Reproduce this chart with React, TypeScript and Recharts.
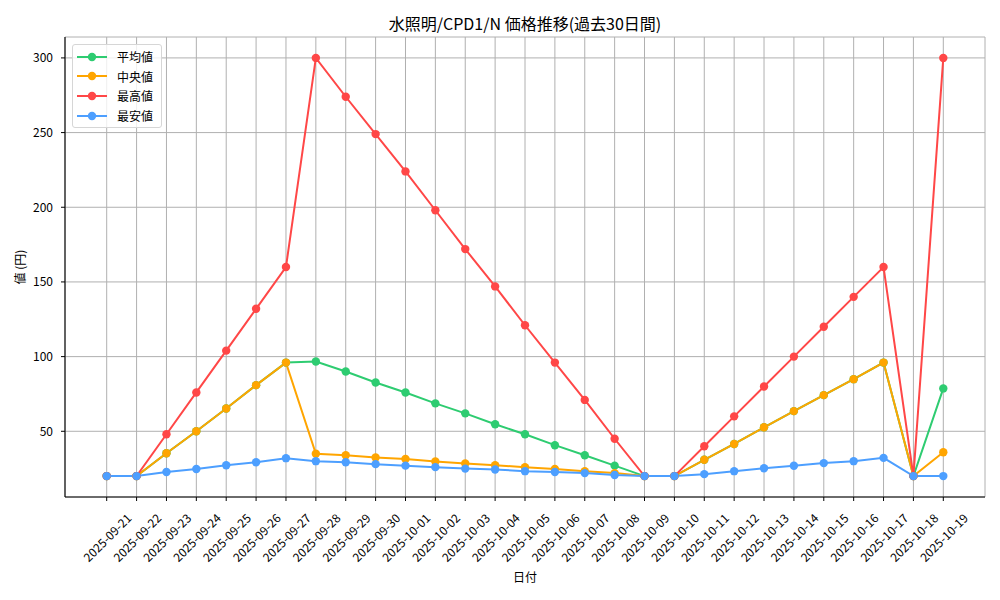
import { LineChart, Line, XAxis, YAxis, CartesianGrid } from 'recharts';

const dates = [
  '2025-09-21', '2025-09-22', '2025-09-23', '2025-09-24', '2025-09-25', '2025-09-26',
  '2025-09-27', '2025-09-28', '2025-09-29', '2025-09-30', '2025-10-01', '2025-10-02',
  '2025-10-03', '2025-10-04', '2025-10-05', '2025-10-06', '2025-10-07', '2025-10-08',
  '2025-10-09', '2025-10-10', '2025-10-11', '2025-10-12', '2025-10-13', '2025-10-14',
  '2025-10-15', '2025-10-16', '2025-10-17', '2025-10-18', '2025-10-19',
];

// 平均値
const avgValues = [
  20, 20, 35.3, 50, 65.3, 80.9, 96, 96.7, 90, 82.7, 76, 68.7, 62, 54.7, 48,
  40.7, 34, 27, 20, 20, 30.9, 41.5, 52.7, 63.5, 74.2, 84.9, 96, 20, 78.7,
];
// 中央値
const medianValues = [
  20, 20, 35.3, 50, 65.3, 80.9, 96, 35, 34, 32.4, 31.5, 29.8, 28.4, 27.3, 26,
  24.7, 23.3, 22, 20, 20, 30.9, 41.5, 52.7, 63.5, 74.2, 84.9, 96, 20, 36,
];
// 最高値
const maxValues = [
  20, 20, 48, 76, 104, 132, 160, 300, 274, 249, 224, 198, 172, 147, 121,
  96, 71, 45, 20, 20, 40, 60, 80, 100, 120, 140, 160, 20, 300,
];
// 最安値
const minValues = [
  20, 20, 22.7, 24.7, 27.3, 29.3, 32, 30, 29.3, 28, 27, 26, 25, 24.4, 23.3,
  22.7, 22, 20.7, 20, 20, 21.3, 23.3, 25.3, 26.9, 28.7, 30, 32.2, 20, 20,
];

const yTicks = [50, 100, 150, 200, 250, 300];

const series = [
  { key: 'avg', name: '平均値', color: '#2ecc71' },
  { key: 'median', name: '中央値', color: '#ffa500' },
  { key: 'max', name: '最高値', color: '#ff4747' },
  { key: 'min', name: '最安値', color: '#4d9fff' },
];

const chartData = dates.map((date, i) => ({
  date,
  avg: avgValues[i],
  median: medianValues[i],
  max: maxValues[i],
  min: minValues[i],
}));

const FONT = '"Noto Sans CJK JP", "DejaVu Sans", sans-serif';

function DateTick({ x, y, payload }: any) {
  return (
    <text
      transform={`translate(${x},${y + 36}) rotate(-45)`}
      textAnchor="middle"
      dominantBaseline="central"
      fontSize={12}
      fontFamily={FONT}
      fill="#000"
    >
      {payload.value}
    </text>
  );
}

function LegendBox() {
  return (
    <div
      style={{
        position: 'absolute', left: 72, top: 44,
        background: 'rgba(255,255,255,0.8)',
        border: '1px solid #d6d6d6',
        borderRadius: 3,
        padding: '2px 8px 2px 4px',
        fontFamily: FONT,
        fontSize: 12,
        zIndex: 2,
      }}
    >
      {series.map(s => (
        <div key={s.key} style={{ display: 'flex', alignItems: 'center', height: 19.6 }}>
          <svg width={30} height={12} style={{ marginRight: 10 }}>
            <line x1={0} y1={6} x2={30} y2={6} stroke={s.color} strokeWidth={2} />
            <circle cx={15} cy={6} r={4.2} fill={s.color} />
          </svg>
          <span>{s.name}</span>
        </div>
      ))}
    </div>
  );
}

function App() {
  return (
    <div style={{ position: 'relative', width: 1000, height: 600, background: '#fff' }}>
      <style>{'body{margin:0}'}</style>
      <div
        style={{
          position: 'absolute', left: 0, width: 1050, top: 13, textAlign: 'center',
          fontFamily: FONT, fontSize: 16, lineHeight: '20px',
        }}
      >
        水照明/CPD1/N 価格推移(過去30日間)
      </div>
      <div
        style={{
          position: 'absolute', left: 0, width: 1050, top: 569, textAlign: 'center',
          fontFamily: FONT, fontSize: 12, lineHeight: '16px',
        }}
      >
        日付
      </div>
      <div
        style={{
          position: 'absolute', left: 20, top: 267, transform: 'translate(-50%,-50%) rotate(-90deg)',
          fontFamily: FONT, fontSize: 12, whiteSpace: 'nowrap', lineHeight: '16px',
        }}
      >
        値 (円)
      </div>
      <LineChart
        width={1000}
        height={600}
        data={chartData}
        margin={{ top: 37, right: 15, bottom: 0, left: 0 }}
        style={{ position: 'absolute', left: 0, top: 0 }}
      >
        <CartesianGrid stroke="#b0b0b0" strokeWidth={1} />
        <XAxis
          dataKey="date"
          interval={0}
          padding={{ left: 41.7, right: 41.7 }}
          height={103}
          tickSize={4}
          tickMargin={0}
          tick={<DateTick />}
          tickLine={{ stroke: '#000' }}
          axisLine={{ stroke: '#000', strokeWidth: 1.1 }}
        />
        <XAxis
          xAxisId="top"
          dataKey="date"
          orientation="top"
          height={0}
          tick={false}
          tickLine={false}
          axisLine={{ stroke: '#000', strokeWidth: 1.1 }}
        />
        <YAxis
          type="number"
          domain={[6, 314]}
          ticks={yTicks}
          allowDataOverflow
          width={65}
          tickSize={4}
          tickMargin={8}
          tick={{ fontSize: 12, fontFamily: FONT, fill: '#000' }}
          tickLine={{ stroke: '#000' }}
          axisLine={{ stroke: '#000', strokeWidth: 1.1 }}
        />
        <YAxis
          yAxisId="right"
          orientation="right"
          type="number"
          domain={[6, 314]}
          width={0}
          tick={false}
          tickLine={false}
          axisLine={{ stroke: '#000', strokeWidth: 1.1 }}
        />
        {series.map(s => (
          <Line
            key={s.key}
            type="linear"
            dataKey={s.key}
            name={s.name}
            stroke={s.color}
            strokeWidth={2}
            dot={{ r: 4.2, fill: s.color, stroke: s.color, strokeWidth: 0 }}
            activeDot={false}
            isAnimationActive={false}
          />
        ))}
      </LineChart>
      <LegendBox />
    </div>
  );
}

export default App;
